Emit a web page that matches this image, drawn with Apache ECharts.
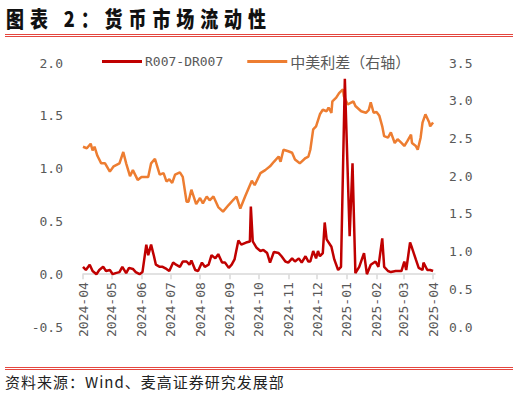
<!DOCTYPE html>
<html>
<head>
<meta charset="utf-8">
<script src="https://cdn.jsdelivr.net/npm/echarts@6/dist/echarts.min.js"></script>
<style>
  html, body { margin: 0; padding: 0; background: #ffffff; }
  #wrap { position: relative; width: 518px; height: 395px; overflow: hidden; background: #fff; }
  #chart { position: absolute; left: 0; top: 0; width: 518px; height: 395px; }
  #title { position: absolute; left: 6px; top: 3px; font-family: "Noto Sans CJK SC", sans-serif; font-weight: 900; font-size: 18px; line-height: 24px; letter-spacing: 5.9px; color: #111; white-space: nowrap; transform: scaleY(1.18); transform-origin: 0 0; }
  .rule { position: absolute; left: 5px; width: 508px; height: 1px; background: #e5463f; }
  #source { position: absolute; left: 5px; top: 372px; font-family: "Noto Sans CJK SC", sans-serif; font-size: 15px; line-height: 20px; letter-spacing: 1px; color: #222; white-space: nowrap; }
</style>
</head>
<body>
<div id="wrap">
  <div id="chart"></div>
  <div id="title">图表 2：货币市场流动性</div>
  <div class="rule" style="top:34px"></div>
  <div class="rule" style="top:36px"></div>
  <div class="rule" style="top:367px"></div>
  <div class="rule" style="top:369px"></div>
  <div id="source">资料来源：Wind、麦高证券研究发展部</div>
</div>
<script>
// ---- Data ----
const seriesNames = ['R007-DR007', '中美利差（右轴）'];

const redDates = [
  '2024-04-01','2024-04-04','2024-04-08','2024-04-11','2024-04-15','2024-04-18','2024-04-22','2024-04-25','2024-04-29',
  '2024-05-02','2024-05-05','2024-05-09','2024-05-12','2024-05-16','2024-05-19','2024-05-23','2024-05-26','2024-05-30',
  '2024-06-02','2024-06-06','2024-06-08','2024-06-11','2024-06-14','2024-06-16','2024-06-20','2024-06-23','2024-06-27','2024-06-30',
  '2024-07-04','2024-07-07','2024-07-11','2024-07-14','2024-07-18','2024-07-21','2024-07-23','2024-07-27','2024-07-30',
  '2024-08-03','2024-08-06','2024-08-10','2024-08-13','2024-08-17','2024-08-20','2024-08-24','2024-08-27','2024-08-31',
  '2024-09-03','2024-09-06','2024-09-10','2024-09-13','2024-09-18','2024-09-22','2024-09-23','2024-09-25','2024-09-29',
  '2024-10-03','2024-10-06','2024-10-10','2024-10-13','2024-10-17','2024-10-22','2024-10-25','2024-10-29',
  '2024-11-01','2024-11-05','2024-11-08','2024-11-12','2024-11-15','2024-11-19','2024-11-22','2024-11-24','2024-11-27','2024-11-30',
  '2024-12-02','2024-12-04','2024-12-07','2024-12-09','2024-12-11','2024-12-16','2024-12-19','2024-12-23','2024-12-26','2024-12-30',
  '2025-01-04','2025-01-07','2025-01-10','2025-01-14','2025-01-19','2025-01-22','2025-01-26','2025-01-31',
  '2025-02-03','2025-02-07','2025-02-09','2025-02-13','2025-02-16','2025-02-21','2025-02-27',
  '2025-03-02','2025-03-04','2025-03-08','2025-03-10','2025-03-14','2025-03-17','2025-03-21','2025-03-22','2025-03-26','2025-03-29',
  '2025-04-01'
];
const redValues = [
  0.07,0.04,0.09,0.03,0.00,0.04,0.07,0.03,0.04,
  0.00,0.01,0.02,0.07,0.01,0.06,0.05,0.02,0.00,
  0.02,0.28,0.18,0.28,0.17,0.09,0.07,0.07,0.05,0.03,
  0.11,0.09,0.07,0.12,0.12,0.09,0.13,0.04,0.03,
  0.11,0.07,0.09,0.18,0.15,0.19,0.11,0.11,0.06,
  0.09,0.14,0.32,0.28,0.30,0.31,0.64,0.31,0.25,
  0.22,0.23,0.20,0.11,0.21,0.20,0.17,0.12,
  0.11,0.15,0.12,0.15,0.11,0.17,0.12,0.12,0.22,0.15,
  0.22,0.17,0.20,0.49,0.33,0.26,0.14,0.04,0.07,1.85,
  0.36,1.05,0.01,0.07,0.20,0.00,0.09,0.12,
  0.07,0.34,0.07,0.03,0.02,0.03,0.03,
  0.12,0.04,0.30,0.25,0.14,0.06,0.04,0.11,0.04,0.04,
  0.03
];

const spreadDates = [
  '2024-04-01','2024-04-05','2024-04-09','2024-04-11','2024-04-13','2024-04-16','2024-04-20','2024-04-24','2024-04-29',
  '2024-05-03','2024-05-09','2024-05-13','2024-05-16','2024-05-20','2024-05-23','2024-05-28',
  '2024-06-01','2024-06-08','2024-06-11','2024-06-15','2024-06-20','2024-06-24','2024-06-27','2024-06-30',
  '2024-07-03','2024-07-06','2024-07-11','2024-07-14','2024-07-18','2024-07-20','2024-07-23','2024-07-28',
  '2024-08-01','2024-08-04','2024-08-08','2024-08-11','2024-08-15','2024-08-20','2024-08-25','2024-08-31',
  '2024-09-05','2024-09-08','2024-09-12','2024-09-17','2024-09-24','2024-09-27',
  '2024-10-03','2024-10-08','2024-10-13','2024-10-17','2024-10-22','2024-10-24','2024-10-27',
  '2024-11-01','2024-11-05','2024-11-08','2024-11-13','2024-11-19','2024-11-22','2024-11-24','2024-11-27','2024-11-30',
  '2024-12-04','2024-12-07','2024-12-11','2024-12-13','2024-12-16','2024-12-17','2024-12-21','2024-12-24','2024-12-28','2024-12-29',
  '2025-01-02','2025-01-05','2025-01-08','2025-01-10','2025-01-16','2025-01-21','2025-01-24','2025-01-26','2025-01-29',
  '2025-02-01','2025-02-04','2025-02-07','2025-02-09','2025-02-13','2025-02-16','2025-02-20','2025-02-23','2025-02-27',
  '2025-03-02','2025-03-05','2025-03-09','2025-03-10','2025-03-14','2025-03-16','2025-03-19','2025-03-21','2025-03-24','2025-03-28','2025-03-29',
  '2025-04-01'
];
const spreadValues = [
  2.39,2.37,2.43,2.34,2.39,2.27,2.17,2.17,2.06,
  2.13,2.17,2.32,2.17,2.00,2.08,1.95,
  1.99,1.99,2.17,2.23,2.02,2.04,1.93,1.96,
  1.91,2.02,2.05,1.99,1.66,1.66,1.82,1.63,
  1.71,1.64,1.73,1.68,1.73,1.59,1.53,1.62,
  1.69,1.73,1.57,1.73,1.94,1.88,
  2.04,2.08,2.13,2.19,2.26,2.19,2.35,
  2.33,2.31,2.22,2.17,2.24,2.26,2.35,2.62,2.66,
  2.82,2.88,2.86,2.91,2.84,2.99,3.04,3.10,3.15,3.06,
  2.95,2.97,2.99,2.93,2.86,2.84,2.88,2.98,2.84,
  2.85,2.80,2.66,2.53,2.51,2.58,2.44,2.49,2.44,
  2.40,2.46,2.55,2.44,2.40,2.35,2.51,2.71,2.82,2.71,2.66,
  2.71
];

const axisStart = '2024-04-01';
const axisEnd = '2025-04-03';
const leftTicks = { min: -0.5, max: 2.0, step: 0.5 };
const rightTicks = { min: 0.0, max: 3.5, step: 0.5 };

// ---- Chart ----
const redData = redDates.map((d, i) => [d, redValues[i]]);
const spreadData = spreadDates.map((d, i) => [d, spreadValues[i]]);

const monoFont = "'DejaVu Sans Mono', 'Noto Sans CJK SC', monospace";
const labelColor = '#595959';

const gridTop = 63, gridBottom = 68, chartH = 395;
const plotH = chartH - gridTop - gridBottom;
// place the date axis where the left axis reads zero
const zeroOffset = -plotH * (0 - leftTicks.min) / (leftTicks.max - leftTicks.min);

const chart = echarts.init(document.getElementById('chart'), null, { renderer: 'svg' });
chart.setOption({
  animation: false,
  backgroundColor: 'transparent',
  grid: { left: 83, right: 83, top: gridTop, bottom: gridBottom, containLabel: false },
  legend: {
    data: seriesNames,
    left: 97,
    top: 49,
    itemWidth: 40,
    itemHeight: 3,
    itemGap: 24,
    icon: 'rect',
    formatter: function (name) {
      return name === seriesNames[0] ? '{a|' + name + '}' : '{b|' + name + '}';
    },
    textStyle: {
      color: labelColor,
      padding: [0, 0, 0, -2],
      rich: {
        a: { fontFamily: monoFont, fontSize: 13, color: labelColor },
        b: { fontFamily: "'Noto Sans CJK SC', sans-serif", fontSize: 15, color: labelColor }
      }
    }
  },
  xAxis: {
    type: 'time',
    min: axisStart,
    max: axisEnd,
    splitNumber: 12,
    position: 'bottom',
    offset: zeroOffset,
    axisLine: { onZero: false, lineStyle: { color: '#d9d9d9', width: 1.5 } },
    axisTick: { show: true, length: 5, lineStyle: { color: '#d9d9d9', width: 1.5 } },
    splitLine: { show: false },
    axisLabel: {
      rotate: 90,
      margin: 8,
      interval: 0,
      hideOverlap: false,
      fontFamily: monoFont,
      fontSize: 13,
      color: labelColor,
      formatter: function (v) {
        const d = new Date(v);
        return d.getFullYear() + '-' + String(d.getMonth() + 1).padStart(2, '0');
      }
    }
  },
  yAxis: [
    {
      type: 'value',
      min: leftTicks.min,
      max: leftTicks.max,
      interval: leftTicks.step,
      axisLine: { show: false },
      axisTick: { show: false },
      splitLine: { show: false },
      axisLabel: {
        margin: 20,
        fontFamily: monoFont,
        fontSize: 13,
        color: labelColor,
        formatter: v => v.toFixed(1)
      }
    },
    {
      type: 'value',
      min: rightTicks.min,
      max: rightTicks.max,
      interval: rightTicks.step,
      position: 'right',
      axisLine: { show: false },
      axisTick: { show: false },
      splitLine: { show: false },
      axisLabel: {
        margin: 14,
        fontFamily: monoFont,
        fontSize: 13,
        color: labelColor,
        formatter: v => v.toFixed(1)
      }
    }
  ],
  series: [
    {
      name: seriesNames[1],
      type: 'line',
      yAxisIndex: 1,
      data: spreadData,
      symbol: 'none',
      showSymbol: false,
      color: '#ED7D31',
      lineStyle: { color: '#ED7D31', width: 2.5 },
      z: 2
    },
    {
      name: seriesNames[0],
      type: 'line',
      yAxisIndex: 0,
      data: redData,
      symbol: 'none',
      showSymbol: false,
      color: '#C00000',
      lineStyle: { color: '#C00000', width: 2.5 },
      z: 3
    }
  ]
});
</script>
</body>
</html>
